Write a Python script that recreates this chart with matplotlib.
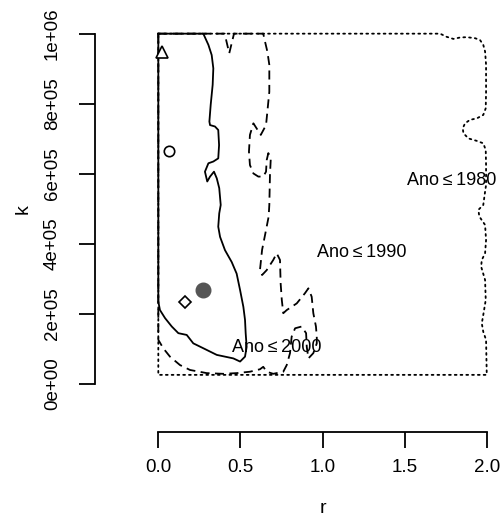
import matplotlib
matplotlib.use("Agg")
import matplotlib.pyplot as plt

plt.rcParams['font.family'] = ['Liberation Sans', 'DejaVu Sans']

# ano <= 2000 (solid), k in millions
c2000_r = [0.0, 0.274, 0.305, 0.325, 0.335, 0.331, 0.319, 0.311, 0.315, 0.345,
           0.365, 0.370, 0.365, 0.335, 0.305, 0.284, 0.298, 0.315, 0.339, 0.356,
           0.371, 0.380, 0.371, 0.365, 0.376, 0.406, 0.447, 0.477, 0.498, 0.518,
           0.528, 0.532, 0.538, 0.528, 0.498, 0.457, 0.356, 0.274, 0.213, 0.173,
           0.122, 0.082, 0.041, 0.010, 0.0, 0.0]
c2000_k = [1.0, 1.0, 0.968, 0.939, 0.901, 0.854, 0.797, 0.749, 0.739, 0.735,
           0.725, 0.682, 0.644, 0.635, 0.630, 0.606, 0.578, 0.592, 0.606, 0.587,
           0.559, 0.511, 0.487, 0.449, 0.420, 0.382, 0.348, 0.315, 0.268, 0.220,
           0.183, 0.145, 0.106, 0.078, 0.064, 0.073, 0.083, 0.102, 0.116, 0.140,
           0.145, 0.164, 0.188, 0.211, 0.235, 1.0]

# ano <= 1990 (dashed)
c1990_r = [0.0, 0.404, 0.432, 0.461, 0.639, 0.650, 0.664, 0.676, 0.676, 0.664,
           0.656, 0.624, 0.579, 0.558, 0.552, 0.558, 0.579, 0.609, 0.639, 0.656,
           0.660, 0.670, 0.685, 0.680, 0.676, 0.672, 0.652, 0.632, 0.619, 0.632,
           0.660, 0.700, 0.721, 0.741, 0.745, 0.752, 0.761, 0.782, 0.843, 0.893,
           0.914, 0.934, 0.944, 0.960, 0.965, 0.965, 0.944, 0.914, 0.904, 0.900,
           0.873, 0.833, 0.812, 0.802, 0.782, 0.761, 0.700, 0.660, 0.639, 0.619,
           0.558, 0.477, 0.396, 0.295, 0.193, 0.132, 0.071, 0.030, 0.0, 0.0]
c1990_k = [1.0, 1.0, 0.944, 1.0, 1.0, 0.977, 0.949, 0.911, 0.834, 0.777,
           0.739, 0.711, 0.744, 0.711, 0.663, 0.625, 0.601, 0.592, 0.592, 0.606,
           0.639, 0.659, 0.644, 0.597, 0.511, 0.478, 0.430, 0.383, 0.325, 0.311,
           0.325, 0.354, 0.373, 0.354, 0.287, 0.240, 0.202, 0.211, 0.230, 0.259,
           0.273, 0.249, 0.202, 0.164, 0.135, 0.116, 0.088, 0.073, 0.106, 0.145,
           0.164, 0.159, 0.135, 0.088, 0.054, 0.035, 0.029, 0.035, 0.049, 0.042,
           0.035, 0.031, 0.029, 0.031, 0.040, 0.054, 0.078, 0.102, 0.126, 1.0]

# ano <= 1980 (dotted)
c1980_r = [0.0, 1.716, 1.756, 1.797, 1.837, 1.878, 1.929, 1.959, 1.979, 1.990,
           1.996, 1.996, 1.994, 1.979, 1.939, 1.898, 1.868, 1.854, 1.858, 1.888,
           1.939, 1.979, 1.994, 1.996, 1.996, 1.990, 1.979, 1.949, 1.955, 1.990,
           1.996, 1.990, 1.970, 1.966, 1.990, 1.994, 1.979, 1.970, 1.979, 1.996,
           2.0, 2.0, 0.0, 0.0]
c1980_k = [1.0, 1.0, 0.991, 0.985, 0.989, 0.990, 0.987, 0.982, 0.968, 0.949,
           0.911, 0.834, 0.787, 0.768, 0.758, 0.754, 0.744, 0.730, 0.716, 0.701,
           0.694, 0.687, 0.668, 0.625, 0.568, 0.549, 0.511, 0.497, 0.478, 0.454,
           0.411, 0.373, 0.354, 0.335, 0.297, 0.240, 0.197, 0.173, 0.149, 0.126,
           0.031, 0.026, 0.026, 1.0]

# points
pt_r = [0.021, 0.065, 0.163, 0.274]
pt_k = [0.948, 0.665, 0.235, 0.268]

labels = ['Ano\u2009\u2264\u20091980', 'Ano\u2009\u2264\u20091990',
          'Ano\u2009\u2264\u20092000']
lab_r = [1.785, 1.24, 0.72]
lab_k = [0.580, 0.374, 0.103]

xticks = [0.0, 0.5, 1.0, 1.5, 2.0]
yticks = [0, 200000, 400000, 600000, 800000, 1000000]
yticklabels = ['0e+00', '2e+05', '4e+05', '6e+05', '8e+05', '1e+06']

M = 1e6
lw = 1.3

fig = plt.figure(figsize=(5.01, 5.21), dpi=100)
ax = fig.add_axes([0.316, 0.263, 0.6555, 0.6724])

ax.plot(c1980_r, [v * M for v in c1980_k], color='black', lw=lw,
        linestyle=(0, (1, 2.2)), dash_capstyle='round', clip_on=False)
ax.plot(c1990_r, [v * M for v in c1990_k], color='black', lw=lw,
        linestyle=(0, (5, 3)), clip_on=False)
ax.plot(c2000_r, [v * M for v in c2000_k], color='black', lw=lw,
        clip_on=False)

ax.plot(pt_r[0], pt_k[0] * M, marker='^', ms=9, mfc='white', mec='black',
        mew=1.2, clip_on=False)
ax.plot(pt_r[1], pt_k[1] * M, marker='o', ms=7.5, mfc='white', mec='black',
        mew=1.2, clip_on=False)
ax.plot(pt_r[2], pt_k[2] * M, marker='D', ms=6.5, mfc='white', mec='black',
        mew=1.2, clip_on=False)
ax.plot(pt_r[3], pt_k[3] * M, marker='o', ms=10.5, mfc='#555555',
        mec='#555555', clip_on=False)

for txt, r, k in zip(labels, lab_r, lab_k):
    ax.text(r, k * M, txt, ha='center', va='center', fontsize=13,
            clip_on=False)

ax.set_xlim(0, 2)
ax.set_ylim(0, M)
for s in ['top', 'right']:
    ax.spines[s].set_visible(False)
ax.spines['left'].set_position(('outward', 45.6))
ax.spines['bottom'].set_position(('outward', 34.6))
ax.spines['left'].set_bounds(0, M)
ax.spines['bottom'].set_bounds(0, 2)
ax.spines['left'].set_linewidth(lw)
ax.spines['bottom'].set_linewidth(lw)

ax.set_xticks(xticks)
ax.set_xticklabels(['%.1f' % v for v in xticks])
ax.set_yticks(yticks)
ax.set_yticklabels(yticklabels, rotation=90, va='center')
ax.tick_params(length=11.5, width=lw, labelsize=13.5)
ax.tick_params(axis='x', pad=8)
ax.tick_params(axis='y', pad=13)

ax.set_xlabel('r', fontsize=14)
ax.set_ylabel('k', fontsize=14)
ax.xaxis.set_label_coords(0.5, -0.33)
ax.yaxis.set_label_coords(-0.385, 0.5)

fig.savefig('out.png', dpi=100)
